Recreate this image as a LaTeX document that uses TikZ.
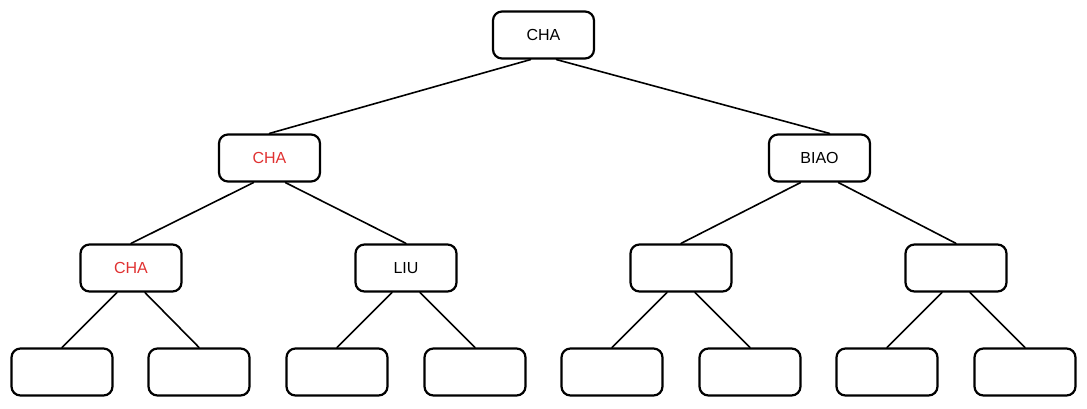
\documentclass[tikz,border=0pt]{standalone}
\usepackage{fontspec}
\setmainfont{Liberation Sans}
\definecolor{redtxt}{HTML}{E03131}

\begin{document}
\begin{tikzpicture}[line cap=round,line join=round,x=1pt,y=-1pt,
  box/.style={draw,line width=2.2pt,rounded corners=9pt,minimum width=101pt,
    minimum height=47pt,inner sep=0pt,font=\fontsize{16}{19}\selectfont},
  hit/.style={box,text=redtxt},
  edge/.style={line width=1.6pt}]
\useasboundingbox (0,0) rectangle (1087,408);
		% root
		\node [box] (r) at (543.5,35) {CHA};
		% level 1
		\node [hit] (a) at (269.5,158) {CHA};
		\node [box] (b) at (819.5,158) {BIAO};
		% level 2
		\node [hit] (aa) at (131,268) {CHA};
		\node [box] (ab) at (406,268) {LIU};
		\node [box] (ba) at (681,268) {};
		\node [box] (bb) at (956,268) {};
		% level 3
		\node [box] (aaa) at (62,372) {};
		\node [box] (aab) at (199,372) {};
		\node [box] (aba) at (337,372) {};
		\node [box] (abb) at (475,372) {};
		\node [box] (baa) at (612,372) {};
		\node [box] (bab) at (750,372) {};
		\node [box] (bba) at (887,372) {};
		\node [box] (bbb) at (1025,372) {};
		% edges
		\draw [edge] ([xshift=-13pt]r.south)-- (a.north);
		\draw [edge] ([xshift=13pt]r.south)-- ([xshift=10pt]b.north);
		\draw [edge] ([xshift=-16pt]a.south)-- (aa.north);
		\draw [edge] ([xshift=16pt]a.south)-- (ab.north);
		\draw [edge] ([xshift=-19pt]b.south)-- (ba.north);
		\draw [edge] ([xshift=19pt]b.south)-- (bb.north);
		\draw [edge] ([xshift=-14pt]aa.south)-- (aaa.north);
		\draw [edge] ([xshift=14pt]aa.south)-- (aab.north);
		\draw [edge] ([xshift=-14pt]ab.south)-- (aba.north);
		\draw [edge] ([xshift=14pt]ab.south)-- (abb.north);
		\draw [edge] ([xshift=-14pt]ba.south)-- (baa.north);
		\draw [edge] ([xshift=14pt]ba.south)-- (bab.north);
		\draw [edge] ([xshift=-14pt]bb.south)-- (bba.north);
		\draw [edge] ([xshift=14pt]bb.south)-- (bbb.north);
\end{tikzpicture}
\end{document}
